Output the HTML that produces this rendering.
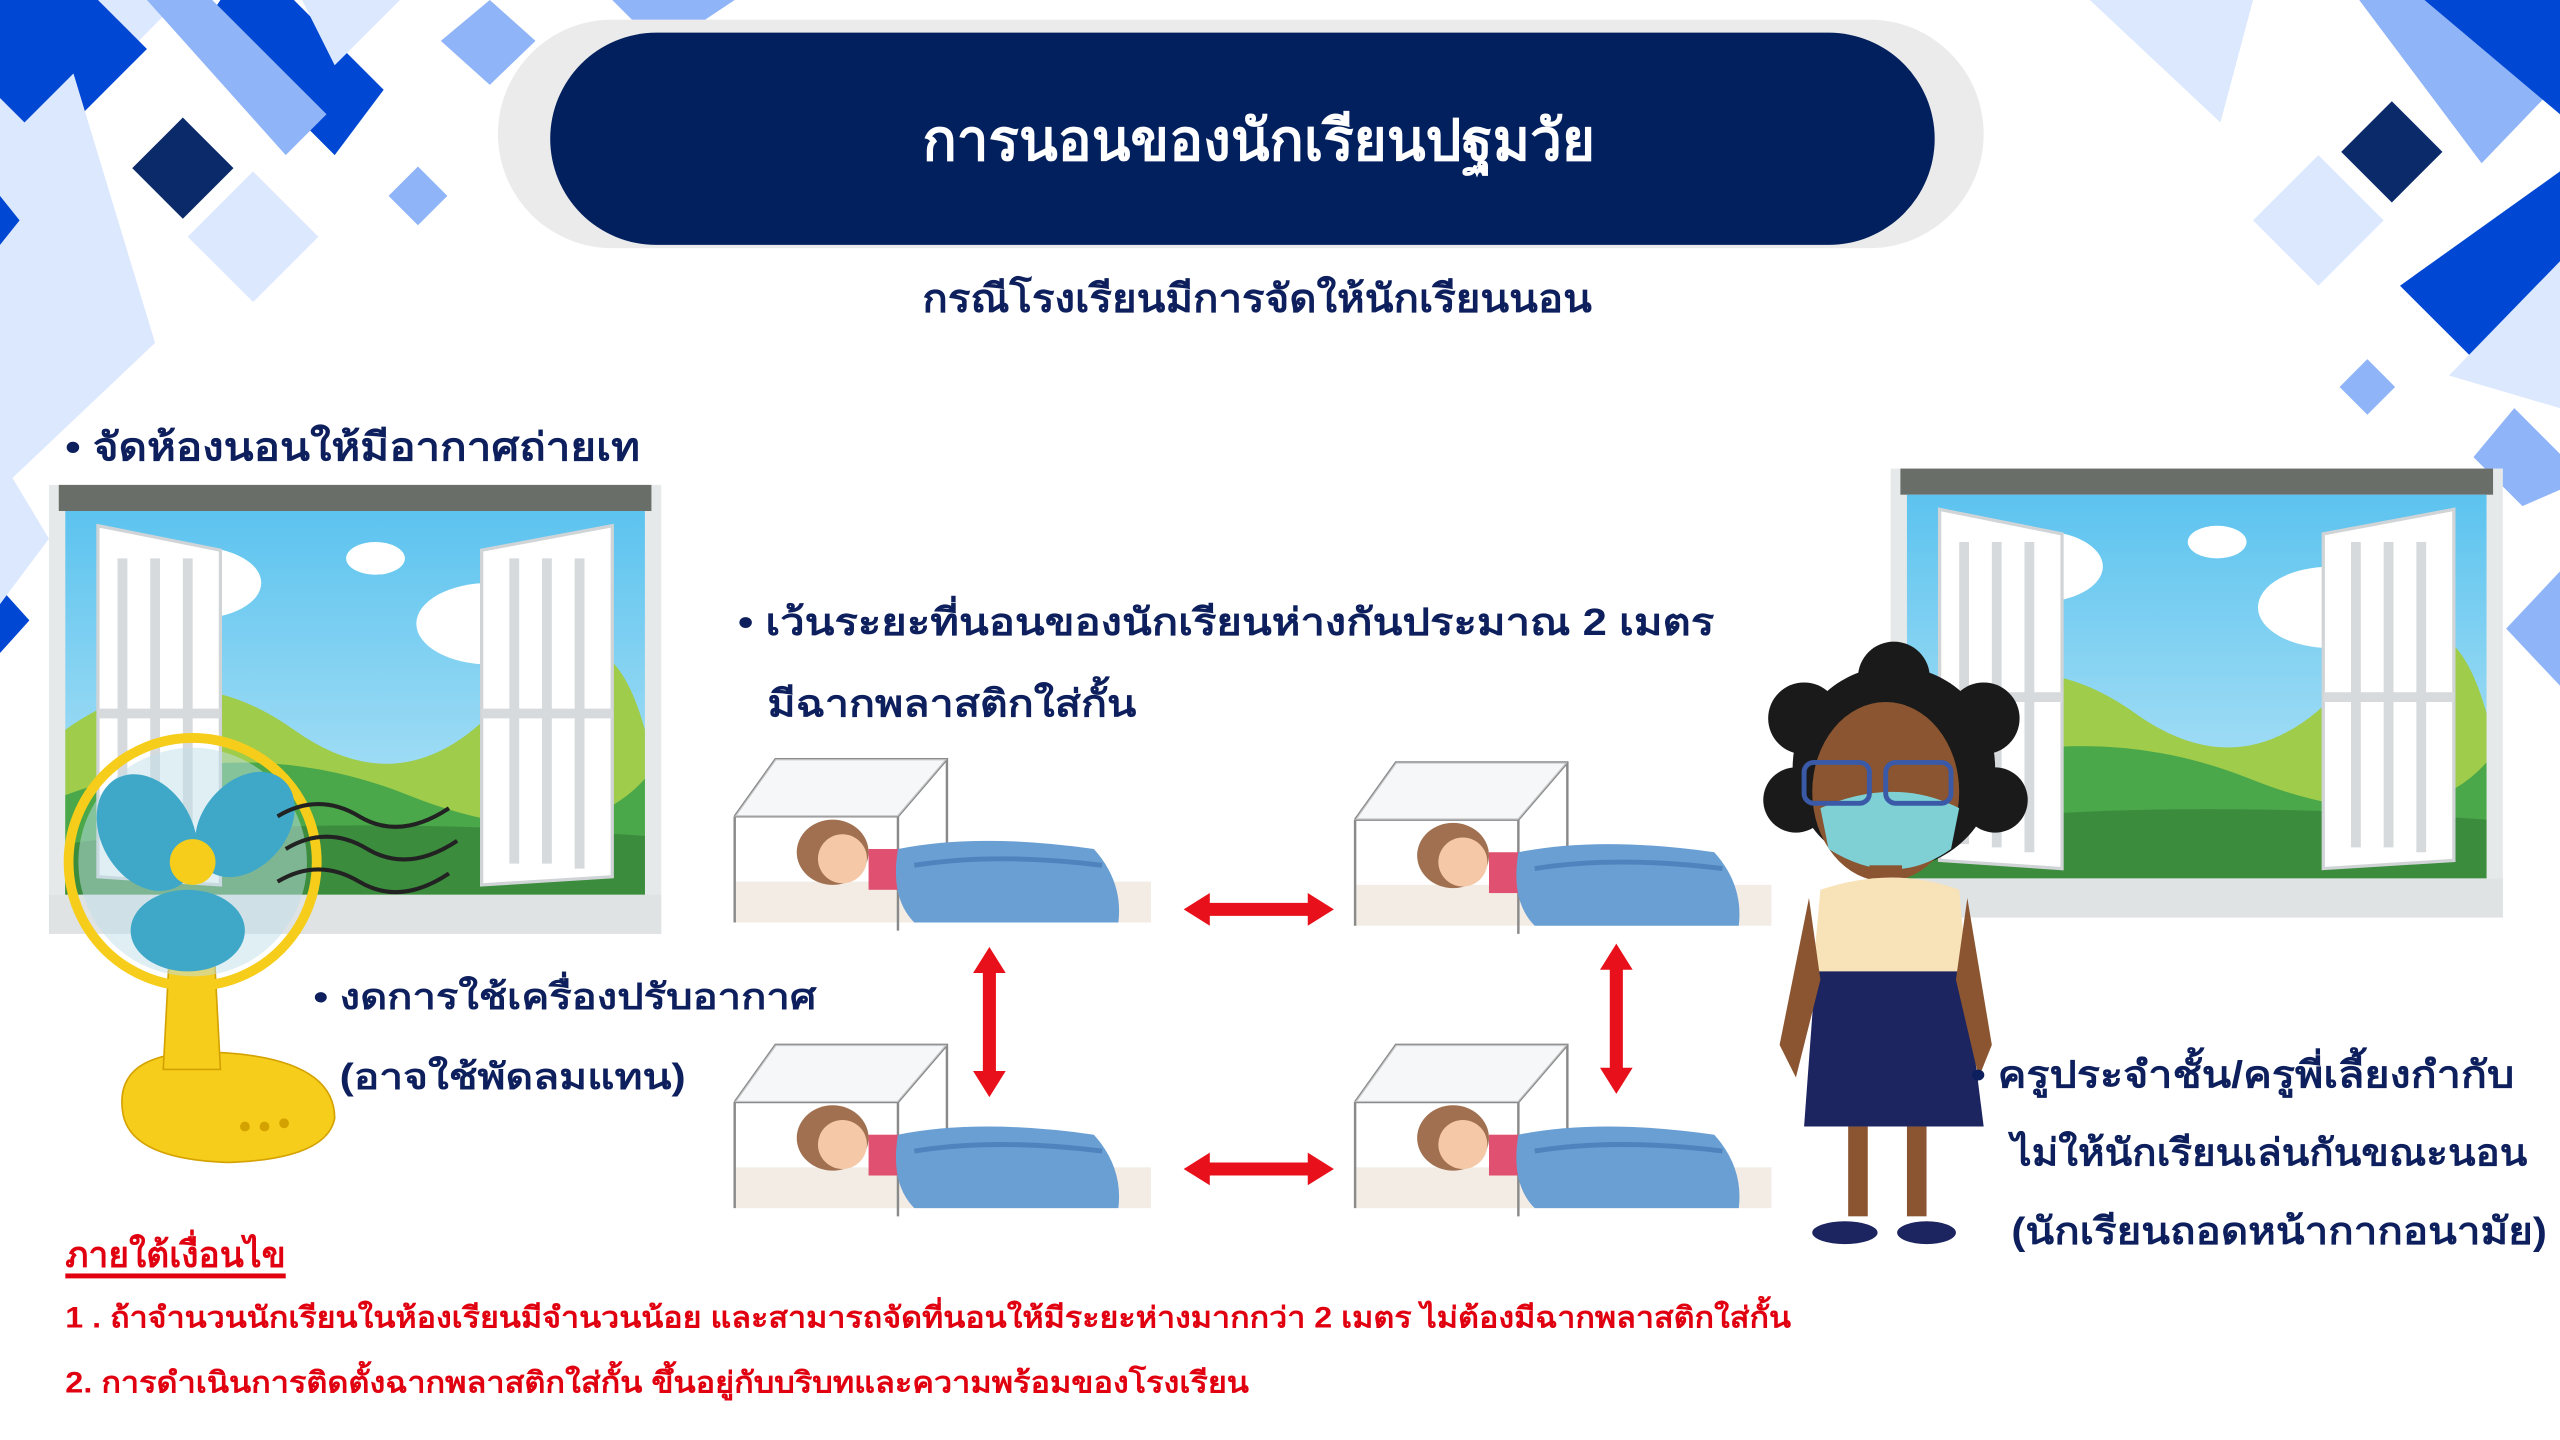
<!DOCTYPE html>
<html><head><meta charset="utf-8"><style>
html,body{margin:0;padding:0;background:#fff;width:2560px;height:1440px;overflow:hidden}
svg{display:block}
text{font-family:"Liberation Sans","Noto Sans CJK SC","WenQuanYi Zen Hei",sans-serif;font-weight:bold}
</style></head><body>
<svg width="2560" height="1440" viewBox="0 0 1568 882" xmlns="http://www.w3.org/2000/svg">
<defs>
<linearGradient id="sky" x1="0" y1="0" x2="0" y2="1"><stop offset="0" stop-color="#5cc3ef"/><stop offset="1" stop-color="#bfe8f7"/></linearGradient>
<g id="win">
 <rect x="0" y="0" width="375" height="275" fill="#e6e9ea"/>
 <rect x="6" y="0" width="363" height="16" fill="#6a6e68"/>
 <rect x="10" y="16" width="355" height="235" fill="url(#sky)"/>
 <ellipse cx="90" cy="60" rx="40" ry="22" fill="#fff"/><ellipse cx="270" cy="85" rx="45" ry="25" fill="#fff"/><ellipse cx="200" cy="45" rx="18" ry="10" fill="#fff"/>
 <path d="M10 150 Q80 100 150 150 T280 130 T365 150 V251 H10Z" fill="#9fcc4a"/>
 <path d="M10 190 Q120 150 220 190 T365 180 V251 H10Z" fill="#4aa84a"/>
 <path d="M10 220 Q150 200 365 215 V251 H10Z" fill="#3c8c3e"/>
 <rect x="0" y="251" width="375" height="24" fill="#dfe3e4"/>
 <path d="M30 25 L105 40 L105 245 L30 240Z" fill="#fff" stroke="#d0d4d6" stroke-width="2"/>
 <path d="M45 45 V230 M65 45 V232 M85 45 V235 M30 140 H105" stroke="#d6dadc" stroke-width="6"/>
 <path d="M345 25 L265 40 L265 245 L345 240Z" fill="#fff" stroke="#d0d4d6" stroke-width="2"/>
 <path d="M285 45 V232 M305 45 V232 M325 45 V235 M265 140 H345" stroke="#d6dadc" stroke-width="6"/>
</g>
<g id="bed">
 <rect x="0" y="80" width="255" height="25" fill="#f2ece4"/>
 <path d="M0 40 L25 5 H130 V100 M0 40 V105 M0 40 H100 V110 M130 5 L100 40" fill="none" stroke="#8a8a8a" stroke-width="1.5"/>
 <path d="M0 40 L25 5 H130 L100 40Z" fill="#eef2f4" opacity=".6"/>
 <ellipse cx="60" cy="62" rx="22" ry="20" fill="#a07050"/>
 <ellipse cx="66" cy="66" rx="15" ry="15" fill="#f5c9a8"/>
 <rect x="82" y="60" width="25" height="25" fill="#e05070"/>
 <path d="M100 60 Q150 50 220 60 Q238 80 235 105 H110 Q95 90 100 60Z" fill="#6a9fd3"/>
 <path d="M110 70 Q160 62 225 70" stroke="#4f83bd" stroke-width="3" fill="none"/>
</g>
<g id="ha"><path d="M0 0 L16 -10 V-4 H76 V-10 L92 0 L76 10 V4 H16 V10Z" fill="#e8101a"/></g>
</defs>
<g>
 <path d="M0 0 H110 L0 110Z" fill="#dce8fd"/>
 <path d="M0 0 H60 L90 30 L30 90 L0 60Z" fill="#0047d4"/>
 <path d="M135 0 H180 L235 55 L205 95 L125 15Z" fill="#0047d4"/>
 <path d="M90 0 H130 L200 70 L175 95Z" fill="#8fb4f8"/>
 <path d="M0 90 L45 45 L95 210 L0 300Z" fill="#dce8fd"/>
 <path d="M0 120 L12 135 L0 150Z" fill="#0047d4"/>
 <path d="M300 0 L328 25 L300 52 L270 25Z" fill="#8fb4f8"/>
 <path d="M185 0 H245 L205 40Z" fill="#dce8fd"/>
 <path d="M375 0 H450 L420 20 L390 15Z" fill="#8fb4f8"/>
 <path d="M112 72 L143 103 L112 134 L81 103Z" fill="#0a2a6a"/>
 <path d="M155 105 L195 145 L155 185 L115 145Z" fill="#dce8fd"/>
 <path d="M256 102 L274 120 L256 138 L238 120Z" fill="#8fb4f8"/>
 <path d="M0 360 L18 380 L0 400Z" fill="#0047d4"/>
 <path d="M0 280 L30 330 L0 370Z" fill="#dce8fd"/>
</g>
<g>
 <path d="M1280 0 H1380 L1360 75 Z" fill="#dce8fd"/>
 <path d="M1445 0 H1568 V50 L1520 100Z" fill="#8fb4f8"/>
 <path d="M1485 0 H1568 V70 Z" fill="#0047d4"/>
 <path d="M1465 62 L1496 93 L1465 124 L1434 93Z" fill="#0a2a6a"/>
 <path d="M1420 95 L1460 135 L1420 175 L1380 135Z" fill="#dce8fd"/>
 <path d="M1568 105 V165 L1515 220 L1470 175Z" fill="#0047d4"/>
 <path d="M1568 160 V250 L1500 230Z" fill="#dce8fd"/>
 <path d="M1450 220 L1467 237 L1450 254 L1433 237Z" fill="#8fb4f8"/>
 <path d="M1540 250 L1568 278 V300 L1545 310 L1515 280Z" fill="#8fb4f8"/>
 <path d="M1568 350 V420 L1535 385Z" fill="#8fb4f8"/>
</g>
<rect x="305" y="12" width="910" height="140" rx="70" fill="#ebebeb"/>
<rect x="337" y="20" width="848" height="130" rx="65" fill="#03205e"/>
<text x="565" y="98" font-size="35" fill="#fff" textLength="412" lengthAdjust="spacingAndGlyphs">การนอนของนักเรียนปฐมวัย</text>
<text x="565" y="191" font-size="24" fill="#0d1f5c" textLength="410" lengthAdjust="spacingAndGlyphs">กรณีโรงเรียนมีการจัดให้นักเรียนนอน</text>
<text x="40" y="282" font-size="24" fill="#0d1f5c" textLength="352" lengthAdjust="spacingAndGlyphs">• จัดห้องนอนให้มีอากาศถ่ายเท</text>
<use href="#win" x="30" y="297"/>
<g>
 <path d="M75 680 Q70 640 140 645 Q205 650 205 685 Q200 710 140 712 Q78 710 75 680Z" fill="#f6cd1a" stroke="#d4a200"/>
 <circle cx="150" cy="690" r="3" fill="#d4a200"/><circle cx="162" cy="690" r="3" fill="#d4a200"/><circle cx="174" cy="688" r="3" fill="#d4a200"/>
 <path d="M105 560 L130 560 L135 655 L100 655Z" fill="#f6cd1a" stroke="#d4a200"/>
 <circle cx="118" cy="528" r="76" fill="none" stroke="#f6cd1a" stroke-width="6"/>
 <circle cx="118" cy="528" r="70" fill="#bfe0ea" opacity=".5"/>
 <ellipse cx="90" cy="510" rx="28" ry="38" fill="#3fa8c8" transform="rotate(-30 90 510)"/>
 <ellipse cx="150" cy="505" rx="26" ry="36" fill="#3fa8c8" transform="rotate(40 150 505)"/>
 <ellipse cx="115" cy="570" rx="35" ry="25" fill="#3fa8c8"/>
 <circle cx="118" cy="528" r="14" fill="#f6cd1a"/>
 <path d="M170 500 q25 -15 50 0 t55 -5 M175 520 q25 -15 50 0 t55 -5 M170 540 q25 -15 50 0 t55 -5" stroke="#222" stroke-width="2.5" fill="none"/>
</g>
<text x="192" y="618" font-size="22" fill="#0d1f5c" textLength="308" lengthAdjust="spacingAndGlyphs">• งดการใช้เครื่องปรับอากาศ</text>
<text x="208" y="667" font-size="22" fill="#0d1f5c" textLength="212" lengthAdjust="spacingAndGlyphs">(อาจใช้พัดลมแทน)</text>
<text x="452" y="389" font-size="23" fill="#0d1f5c" textLength="598" lengthAdjust="spacingAndGlyphs">• เว้นระยะที่นอนของนักเรียนห่างกันประมาณ 2 เมตร</text>
<text x="470" y="439" font-size="23" fill="#0d1f5c" textLength="226" lengthAdjust="spacingAndGlyphs">มีฉากพลาสติกใส่กั้น</text>
<use href="#bed" x="450" y="460"/>
<use href="#bed" x="830" y="462"/>
<use href="#bed" x="450" y="635"/>
<use href="#bed" x="830" y="635"/>
<use href="#ha" x="725" y="557"/>
<use href="#ha" x="725" y="716"/>
<use href="#ha" transform="translate(606 580) rotate(90)"/>
<use href="#ha" transform="translate(990 578) rotate(90)"/>
<use href="#win" x="1158" y="287"/>
<g>
 <circle cx="1160" cy="470" r="62" fill="#1a1a1a"/>
 <circle cx="1105" cy="440" r="22" fill="#1a1a1a"/><circle cx="1215" cy="440" r="22" fill="#1a1a1a"/>
 <circle cx="1100" cy="490" r="20" fill="#1a1a1a"/><circle cx="1222" cy="490" r="20" fill="#1a1a1a"/>
 <circle cx="1160" cy="415" r="22" fill="#1a1a1a"/>
 <ellipse cx="1155" cy="485" rx="45" ry="55" fill="#8a5530"/>
 <path d="M1115 495 Q1160 475 1200 495 L1195 520 Q1160 545 1120 520Z" fill="#7fd0d4"/>
 <rect x="1105" y="467" width="40" height="25" rx="6" fill="none" stroke="#3a5aa8" stroke-width="3"/>
 <rect x="1155" y="467" width="40" height="25" rx="6" fill="none" stroke="#3a5aa8" stroke-width="3"/>
 <rect x="1145" y="530" width="20" height="20" fill="#8a5530"/>
 <path d="M1115 545 Q1160 530 1200 545 L1205 600 H1110Z" fill="#f8e2b8"/>
 <path d="M1112 595 H1203 L1215 690 H1105Z" fill="#1d2560"/>
 <path d="M1108 550 L1090 640 L1100 660 L1115 600Z" fill="#8a5530"/>
 <path d="M1205 550 L1220 640 L1212 660 L1198 600Z" fill="#8a5530"/>
 <rect x="1132" y="690" width="12" height="55" fill="#8a5530"/><rect x="1168" y="690" width="12" height="55" fill="#8a5530"/>
 <ellipse cx="1130" cy="755" rx="20" ry="7" fill="#1d2560"/><ellipse cx="1180" cy="755" rx="18" ry="7" fill="#1d2560"/>
</g>
<text x="1207" y="666" font-size="23" fill="#0d1f5c" textLength="333" lengthAdjust="spacingAndGlyphs">• ครูประจำชั้น/ครูพี่เลี้ยงกำกับ</text>
<text x="1232" y="714" font-size="23" fill="#0d1f5c" textLength="316" lengthAdjust="spacingAndGlyphs">ไม่ให้นักเรียนเล่นกันขณะนอน</text>
<text x="1232" y="762" font-size="23" fill="#0d1f5c" textLength="328" lengthAdjust="spacingAndGlyphs">(นักเรียนถอดหน้ากากอนามัย)</text>
<text x="40" y="776" font-size="22" fill="#e00010" textLength="135" lengthAdjust="spacingAndGlyphs">ภายใต้เงื่อนไข</text>
<rect x="40" y="780" width="135" height="3" fill="#e00010"/>
<text x="40" y="813" font-size="18" fill="#e00010" textLength="1057" lengthAdjust="spacingAndGlyphs">1 . ถ้าจำนวนนักเรียนในห้องเรียนมีจำนวนน้อย และสามารถจัดที่นอนให้มีระยะห่างมากกว่า 2 เมตร ไม่ต้องมีฉากพลาสติกใส่กั้น</text>
<text x="40" y="853" font-size="18" fill="#e00010" textLength="725" lengthAdjust="spacingAndGlyphs">2. การดำเนินการติดตั้งฉากพลาสติกใส่กั้น ขึ้นอยู่กับบริบทและความพร้อมของโรงเรียน</text>
</svg>
</body></html>
